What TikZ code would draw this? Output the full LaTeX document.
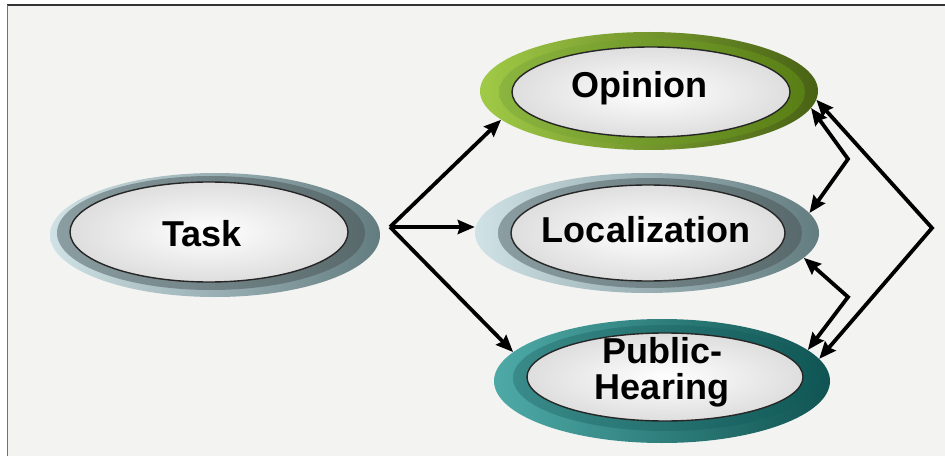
\documentclass[tikz,border=0pt]{standalone}
\usepackage{fontspec}
\setmainfont{Liberation Sans}
\usetikzlibrary{arrows.meta, positioning, shapes.geometric, calc}

\definecolor{paper}{RGB}{243,244,242}
\definecolor{slateLight}{RGB}{208,226,230}
\definecolor{slateDark}{RGB}{98,124,128}
\definecolor{slateBand}{RGB}{118,140,144}
\definecolor{oliveLight}{RGB}{160,202,70}
\definecolor{oliveDark}{RGB}{72,98,20}
\definecolor{oliveBand}{RGB}{118,168,28}
\definecolor{tealLight}{RGB}{78,170,167}
\definecolor{tealDark}{RGB}{16,84,82}
\definecolor{tealBand}{RGB}{22,118,116}

\begin{document}
\begin{tikzpicture}[x=1pt, y=1pt,
    ring/.style={ellipse, inner sep=0pt, draw=none},
    face/.style={ellipse, inner sep=0pt, draw=black!85, line width=1.4pt,
                 inner color=white, outer color=black!13},
    ovaltext/.style={font=\fontsize{36}{36}\selectfont\bfseries, text=black, inner sep=0pt},
    link/.style={line width=3.8pt, -{Stealth[length=17pt, width=14pt, inset=2pt]}},
    twoway/.style={line width=3.8pt, {Stealth[length=17pt, width=14pt, inset=2pt]}-{Stealth[length=17pt, width=14pt, inset=2pt]}}]
    \useasboundingbox (0,0) rectangle (945,456);

    % Frame
    \fill[white] (0,0) rectangle (945,456);
    \fill[paper] (7,0) rectangle (945,450);
    \draw[black!80, line width=2pt] (7,450.5) -- (945,450.5);
    \draw[black!55, line width=1.5pt] (7.5,0) -- (7.5,451);

    % Task
    \node[ring, left color=slateLight, right color=slateDark, minimum width=330pt, minimum height=124pt] (task) at (215,221) {};
    \node[ring, left color=slateBand!85!white, right color=slateBand!75!black, minimum width=308pt, minimum height=114pt] (task-band) at (211,223) {};
    \node[face, minimum width=278pt, minimum height=100pt] (task-face) at (209,224) {};
    \node[ovaltext, anchor=base] (task-text) at (202,210) {Task};

    % Opinion
    \node[ring, left color=oliveLight, right color=oliveDark, minimum width=338pt, minimum height=118pt] (opinion) at (649,365) {};
    \node[ring, left color=oliveBand!85!white, right color=oliveBand!75!black, minimum width=306pt, minimum height=106pt] (opinion-band) at (652,364) {};
    \node[face, minimum width=278pt, minimum height=90pt] (opinion-face) at (651,364) {};
    \node[ovaltext, anchor=base] (opinion-text) at (639,358) {Opinion};

    % Localization
    \node[ring, left color=slateLight, right color=slateDark, minimum width=344pt, minimum height=120pt] (localization) at (647,223) {};
    \node[ring, left color=slateBand!85!white, right color=slateBand!75!black, minimum width=304pt, minimum height=110pt] (localization-band) at (650,223) {};
    \node[face, minimum width=274pt, minimum height=96pt] (localization-face) at (648,223) {};
    \node[ovaltext, anchor=base] (localization-text) at (646,214) {Localization};

    % Public-Hearing
    \node[ring, left color=tealLight, right color=tealDark, minimum width=336pt, minimum height=124pt] (hearing) at (662,75) {};
    \node[ring, left color=tealBand!85!white, right color=tealBand!75!black, minimum width=306pt, minimum height=106pt] (hearing-band) at (666,78) {};
    \node[face, minimum width=276pt, minimum height=88pt] (hearing-face) at (665,79) {};
    \node[ovaltext, align=center] (hearing-text) at (662,84) {Public-\\Hearing};

    % Task fans out
    \coordinate (fan) at (390,229);
    \draw[link] (fan) -- (opinion.191);
    \draw[link] (fan) -- (fan -| localization.west);
    \draw[link] (fan) -- (hearing.169);

    % Links on the right
    \coordinate (bigknee) at (932,228);
    \coordinate (upknee) at (848,297);
    \coordinate (lowknee) at (848,159);
    \draw[twoway] (opinion.-3) -- (bigknee) -- (hearing.8);
    \draw[twoway] (opinion.-6) -- (upknee) -- (localization.7);
    \draw[twoway] (localization.-9) -- (lowknee) -- (hearing.12);
\end{tikzpicture}
\end{document}
